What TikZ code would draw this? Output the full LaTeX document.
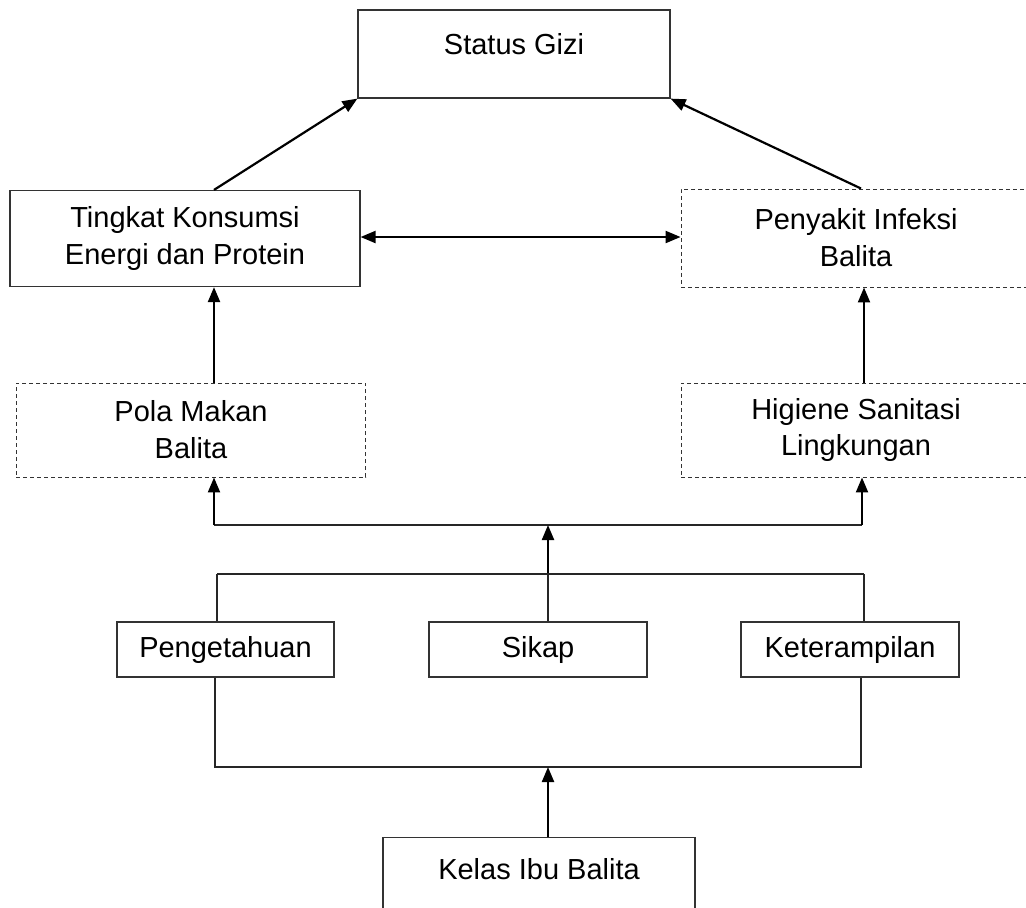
\documentclass[tikz,border=0pt]{standalone}
\usepackage{fontspec}
\setmainfont{Liberation Sans}
\usetikzlibrary{arrows.meta,positioning}

\tikzset{
    box/.style={rectangle, draw=black!80, line width=0.7pt, align=center,
        font=\fontsize{16.5}{21}\selectfont},
    dashbox/.style={box, dash pattern=on 0.08cm off 0.06cm, line width=0.55pt},
    arr/.style={-{Triangle[length=0.3cm, width=0.24cm]}, line width=1.25pt},
    dblarr/.style={{Triangle[length=0.3cm, width=0.24cm]}-{Triangle[length=0.3cm, width=0.24cm]}, line width=1.25pt},
    link/.style={line width=0.8pt, draw=black!85},
}

\begin{document}
\begin{tikzpicture}[x=0.02cm, y=-0.02cm]
    \useasboundingbox (0,0) rectangle (1026,907);
    \clip (0,0) rectangle (1026,907);

    \node[box, minimum width=6.24cm, minimum height=1.76cm, text height=0pt, text depth=0pt] (gizi) at (514,54) {Status Gizi};
    \node[box, minimum width=7cm, minimum height=1.92cm] (tingkat) at (185,238.5) {Tingkat Konsumsi\\Energi dan Protein};
    \node[dashbox, minimum width=7cm, minimum height=1.96cm] (infeksi) at (856,238) {Penyakit Infeksi\\Balita};
    \node[dashbox, minimum width=7cm, minimum height=1.88cm] (pola) at (191,430) {Pola Makan\\Balita};
    \node[dashbox, minimum width=7cm, minimum height=1.88cm] (higiene) at (856,430) {Higiene Sanitasi\\Lingkungan};
    \node[box, minimum width=4.34cm, minimum height=1.1cm] (tahu) at (225.5,649.5) {Pengetahuan};
    \node[box, minimum width=4.36cm, minimum height=1.1cm] (sikap) at (538,649.5) {Sikap};
    \node[box, minimum width=4.36cm, minimum height=1.1cm] (trampil) at (850,649.5) {Keterampilan};
    \node[box, minimum width=6.24cm, minimum height=1.66cm, text height=0pt, text depth=0pt] (kelas) at (539,879) {Kelas Ibu Balita};

    % junctions
    \coordinate (atasL) at (214,525);
    \coordinate (atasR) at (862,525);
    \coordinate (atasM) at (548,525);
    \coordinate (tengahL) at (217,574);
    \coordinate (tengahR) at (864,574);
    \coordinate (tengahM) at (548,574);
    \coordinate (bawahL) at (215,767);
    \coordinate (bawahR) at (861,767);
    \coordinate (bawahM) at (548,767);

    % arrows to top
    \draw[arr] (tingkat.north -| 214,0) -- (gizi.south west);
    \draw[arr] (infeksi.north -| 861,0) -- (gizi.south east);
    \draw[dblarr] (tingkat.east |- 0,237) -- (infeksi.west |- 0,237);
    \draw[arr] (pola.north -| 214,0) -- (tingkat.south -| 214,0);
    \draw[arr] (higiene.north -| 864,0) -- (infeksi.south -| 864,0);

    % upper bracket
    \draw[link, line width=1pt] (atasL) -- (atasR);
    \draw[arr] (atasL) -- (pola.south -| atasL);
    \draw[arr] (atasR) -- (higiene.south -| atasR);
    \draw[arr] (tengahM) -- (atasM);

    % middle bracket
    \draw[link] (tengahL) -- (tengahR);
    \draw[link] (tengahL) -- (tahu.north -| tengahL);
    \draw[link] (tengahM) -- (sikap.north -| tengahM);
    \draw[link] (tengahR) -- (trampil.north -| tengahR);

    % lower bracket
    \draw[link] (tahu.south -| bawahL) -- (bawahL) -- (bawahR) -- (trampil.south -| bawahR);
    \draw[arr] (kelas.north -| bawahM) -- (bawahM);
\end{tikzpicture}
\end{document}
